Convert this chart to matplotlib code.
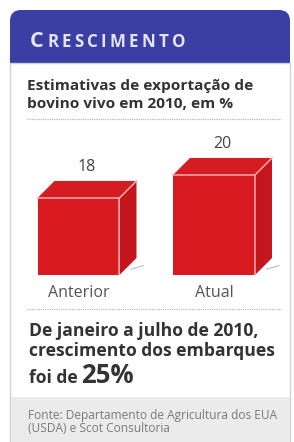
import numpy as np
import matplotlib.pyplot as plt
from matplotlib.patches import Rectangle, FancyBboxPatch, Polygon

plt.rcParams['font.family'] = ['Open Sans', 'DejaVu Sans']

categorias = ["Anterior", "Atual"]
valores = [18, 20]
titulo = ["Estimativas de exportação de", "bovino vivo em 2010, em %"]
rodape = ["Fonte: Departamento de Agricultura dos EUA", "(USDA) e Scot Consultoria"]

W, H = 294, 442
fig = plt.figure(figsize=(W / 100, H / 100), dpi=100)
fig.patch.set_facecolor("white")

# fundo em coordenadas de pixel
bg = fig.add_axes([0, 0, 1, 1])
bg.set_xlim(0, W)
bg.set_ylim(H, 0)
bg.axis("off")

azul = "#3b3fa3"
bg.add_patch(FancyBboxPatch((10, 10), 280, 53, boxstyle="round,pad=0,rounding_size=11",
                            fc=azul, ec="none"))
bg.add_patch(Rectangle((10, 40), 280, 23, fc=azul, ec="none"))
bg.add_patch(Rectangle((10, 63), 280, 380, fc="white", ec="#d2d2d2", lw=1))
bg.add_patch(Rectangle((10.5, 397), 279, 46, fc="#ebebeb", ec="none"))


def px_right(t):
    fig.canvas.draw()
    bb = t.get_window_extent(fig.canvas.get_renderer())
    return bb.x1 * W / fig.bbox.width


# titulo em versalete, letra a letra com espacamento
x = 30
for i, ch in enumerate("CRESCIMENTO"):
    t = bg.text(x, 47, ch, fontsize=15.5 if i == 0 else 12.2, fontweight="bold",
                color="#e4e4f6", va="baseline")
    x = px_right(t) + 3.3

bg.text(27, 86, titulo[0], fontsize=11.1, fontweight="bold", color="#333333", va="center")
bg.text(27, 104, titulo[1], fontsize=11.1, fontweight="bold", color="#333333", va="center")

for yy in (119, 309):
    bg.plot([27, 281], [yy, yy], color="#b0b0b0", lw=0.8, ls=(0, (1, 1)))

bg.text(29, 331, "De janeiro a julho de 2010,", fontsize=12.6, fontweight="bold", color="#333333", va="center")
bg.text(29, 351, "crescimento dos embarques", fontsize=12.6, fontweight="bold", color="#333333", va="center")
t3 = bg.text(29, 383, "foi de ", fontsize=12.6, fontweight="bold", color="#333333", va="baseline")
bg.text(px_right(t3) - 1, 383, "25%", fontsize=18.5, fontweight="bold", color="#333333", va="baseline")

bg.text(28, 415, rodape[0], fontsize=8.6, color="#7a7a7a", va="center")
bg.text(28, 429, rodape[1], fontsize=8.6, color="#7a7a7a", va="center")

# barras 3D
base = 11.3
ax = fig.add_axes([10 / W, (H - 275) / H, 280 / W, 145 / H])
ax.set_xlim(-0.5055, 1.5609)
ax.set_ylim(base, base + 145 / 11.5)
ax.axis("off")
larg = 0.605
dx = 17 / 135.5
dy = 17 / 11.5
pos = np.arange(len(valores))

frente = "#d91a20"
topo = "#d41c22"
lado = "#c4161c"
borda = "#f6aaaa"
ax.bar(pos, np.array(valores) - base, bottom=base, width=larg, color=frente, zorder=3)
for x, v, c in zip(pos, valores, categorias):
    x0, x1 = x - larg / 2, x + larg / 2
    ax.add_patch(Polygon([(x0, v), (x1, v), (x1 + dx, v + dy), (x0 + dx, v + dy)],
                         fc=topo, ec="none", zorder=3))
    ax.add_patch(Polygon([(x1, base), (x1 + dx, base + dy), (x1 + dx, v + dy), (x1, v)],
                         fc=lado, ec="none", zorder=3))
    ax.plot([x0, x1, x1], [v, v, base], color=borda, lw=1.1, zorder=4)
    ax.plot([x1, x1 + dx], [v, v + dy], color=borda, lw=1.1, zorder=4)
    ax.plot([x1 + dx * 0.7, x1 + dx * 1.4], [base + dy * 0.35, base + dy * 0.55],
            color="#c8c8c8", lw=1, zorder=2)
    ax.annotate(str(v), (x + dx / 2, v + dy), xytext=(0, 10), textcoords="offset points",
                ha="center", va="center", fontsize=11.5, color="#444444")
    ax.annotate(c, (x, base), xytext=(0, -13), textcoords="offset points",
                ha="center", va="center", fontsize=11.5, color="#555555", annotation_clip=False)

fig.savefig("out.png", dpi=100)
